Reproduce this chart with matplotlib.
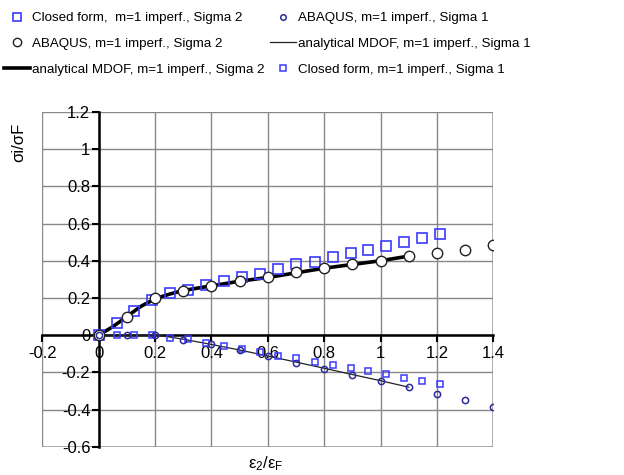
import matplotlib
matplotlib.use("Agg")
import matplotlib.pyplot as plt
from matplotlib.lines import Line2D
from matplotlib.ticker import FuncFormatter

plt.rcParams['font.family'] = ['Liberation Sans', 'DejaVu Sans']

# ABAQUS, Sigma 2
abq_x = [0, 0.1, 0.2, 0.3, 0.4, 0.5, 0.6, 0.7, 0.8, 0.9, 1.0, 1.1, 1.2, 1.3, 1.4]
abq_s2 = [0, 0.10, 0.20, 0.24, 0.265, 0.29, 0.31, 0.34, 0.36, 0.38, 0.40, 0.425, 0.44, 0.46, 0.485]
# ABAQUS, Sigma 1
abq_s1 = [0, 0.0, 0.0, -0.025, -0.05, -0.08, -0.113, -0.15, -0.18, -0.215, -0.245, -0.28, -0.315, -0.35, -0.385]

# Closed form
cf_x = [0, 0.066, 0.127, 0.19, 0.254, 0.318, 0.38, 0.445, 0.509, 0.573, 0.636,
        0.70, 0.766, 0.83, 0.894, 0.957, 1.021, 1.084, 1.148, 1.212]
cf_s2 = [0, 0.066, 0.13, 0.19, 0.225, 0.245, 0.27, 0.29, 0.315, 0.33, 0.355,
         0.38, 0.395, 0.42, 0.44, 0.46, 0.48, 0.50, 0.525, 0.545]
cf_s1 = [0, 0.0, 0.0, 0.0, -0.013, -0.023, -0.04, -0.06, -0.077, -0.09, -0.113,
         -0.125, -0.146, -0.16, -0.179, -0.194, -0.21, -0.23, -0.247, -0.263]

# Analytical MDOF
an_x = [0, 0.05, 0.1, 0.15, 0.2, 0.25, 0.3, 0.4, 0.5, 0.6, 0.7, 0.8, 0.9, 1.0, 1.1]
an_s2 = [0, 0.045, 0.10, 0.155, 0.195, 0.22, 0.24, 0.265, 0.29, 0.31, 0.335, 0.36, 0.38, 0.40, 0.425]
an_s1 = [0, 0, 0, 0, 0, -0.01, -0.022, -0.05, -0.08, -0.112, -0.145, -0.178, -0.212, -0.245, -0.28]

labels = [
    "Closed form,  m=1 imperf., Sigma 2",
    "ABAQUS, m=1 imperf., Sigma 2",
    "analytical MDOF, m=1 imperf., Sigma 2",
    "ABAQUS, m=1 imperf., Sigma 1",
    "analytical MDOF, m=1 imperf., Sigma 1",
    "Closed form, m=1 imperf., Sigma 1",
]

blue = '#3a3aff'
navy = '#2b2b99'

fig = plt.figure(figsize=(6.24, 4.75), dpi=100)
ax = fig.add_axes([0.0678, 0.0596, 0.7227, 0.7046])
ax.set_xlim(-0.2, 1.4)
ax.set_ylim(-0.6, 1.2)

ax.plot(an_x, an_s2, color='black', lw=2.6, zorder=3)
ax.plot(an_x, an_s1, color='#222222', lw=0.9, zorder=3)
ax.plot(cf_x, cf_s2, ls='none', marker='s', ms=7, mfc='none', mec=blue, mew=1.2, zorder=4)
ax.plot(abq_x, abq_s2, ls='none', marker='o', ms=7.5, mfc='white', mec='#222222', mew=1.0, zorder=5)
ax.plot(cf_x, cf_s1, ls='none', marker='s', ms=4.5, mfc='none', mec=blue, mew=1.1, zorder=4)
ax.plot(abq_x, abq_s1, ls='none', marker='o', ms=4.5, mfc='none', mec=navy, mew=1.1, zorder=5)

ax.set_xticks([-0.2, 0, 0.2, 0.4, 0.6, 0.8, 1.0, 1.2, 1.4])
ax.set_yticks([-0.6, -0.4, -0.2, 0, 0.2, 0.4, 0.6, 0.8, 1.0, 1.2])
fmt = FuncFormatter(lambda v, p: ('%g' % round(v, 2)))
ax.xaxis.set_major_formatter(fmt)
ax.yaxis.set_major_formatter(fmt)
ax.grid(True, color='#888888', lw=1.0)
ax.set_axisbelow(True)

for s in ['top', 'right']:
    ax.spines[s].set_visible(False)
ax.spines['left'].set_position(('data', 0))
ax.spines['bottom'].set_position(('data', 0))
ax.spines['left'].set_linewidth(1.8)
ax.spines['bottom'].set_linewidth(1.8)
ax.spines['left'].set_zorder(2)
ax.spines['bottom'].set_zorder(2)
ax.tick_params(axis='both', direction='out', length=5, width=1.5, labelsize=12, colors='black', pad=1)
ax.tick_params(axis='x', pad=3)

for v in [-0.2, 1.4]:
    ax.axvline(v, color='#aaaaaa', lw=1.2, zorder=0)
for v in [-0.6, 1.2]:
    ax.axhline(v, color='#aaaaaa', lw=1.2, zorder=0)

fig.text(0.03, 0.70, 'σi/σF', rotation=90, fontsize=12, ha='center', va='center')
fig.text(0.425, 0.004, r'$\mathregular{\varepsilon_2/\varepsilon_F}$', fontsize=12, ha='center', va='bottom')

handles = [
    Line2D([], [], ls='none', marker='s', ms=6, mfc='none', mec=blue, mew=1.2),
    Line2D([], [], ls='none', marker='o', ms=6, mfc='white', mec='#222222', mew=1.0),
    Line2D([], [], color='black', lw=2.6),
    Line2D([], [], ls='none', marker='o', ms=4, mfc='none', mec=navy, mew=1.1),
    Line2D([], [], color='#222222', lw=0.9),
    Line2D([], [], ls='none', marker='s', ms=4, mfc='none', mec=blue, mew=1.1),
]
fig.legend(handles, labels, loc='upper left', bbox_to_anchor=(0.007, 0.975), ncol=2,
           frameon=False, fontsize=9.6, handlelength=1.9, handletextpad=0.2,
           columnspacing=0.4, labelspacing=1.0, borderaxespad=0, borderpad=0)

fig.savefig('out.png', dpi=100)
